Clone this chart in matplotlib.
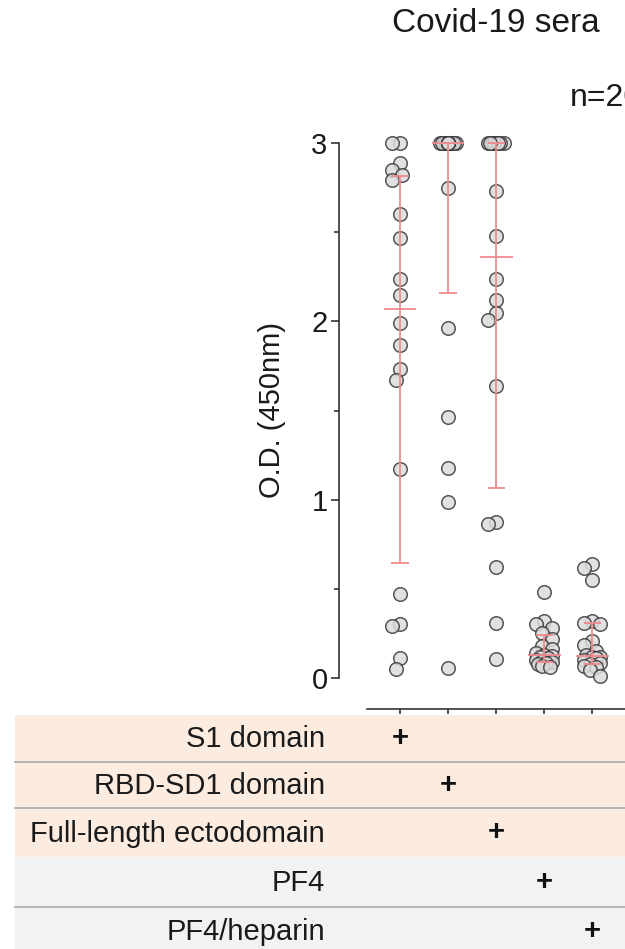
import numpy as np
import matplotlib
matplotlib.use("Agg")
import matplotlib.pyplot as plt
from matplotlib import transforms
from matplotlib.patches import Rectangle

plt.rcParams['font.family'] = ['Liberation Sans', 'DejaVu Sans']

# OD values (n=20 per antigen)
s1_domain = [3.0, 3.0, 2.89, 2.85, 2.82, 2.79, 2.60, 2.47, 2.24, 2.15,
             1.99, 1.87, 1.73, 1.67, 1.17, 0.47, 0.30, 0.29, 0.11, 0.05]
rbd_sd1 = [3.0, 3.0, 3.0, 3.0, 3.0, 3.0, 3.0, 3.0, 3.0, 3.0,
           3.0, 3.0, 3.0, 3.0, 2.75, 1.96, 1.465, 1.176, 0.985, 0.054]
full_length = [3.0, 3.0, 3.0, 3.0, 3.0, 3.0, 3.0, 3.0, 2.73, 2.48,
               2.24, 2.12, 2.045, 2.01, 1.64, 0.873, 0.864, 0.62, 0.31, 0.105]
pf4 = [0.48, 0.32, 0.30, 0.28, 0.25, 0.22, 0.18, 0.16, 0.14, 0.13,
       0.125, 0.12, 0.11, 0.10, 0.095, 0.09, 0.085, 0.08, 0.07, 0.06]
pf4_heparin = [0.64, 0.615, 0.55, 0.32, 0.31, 0.30, 0.21, 0.185, 0.15, 0.13,
               0.12, 0.115, 0.11, 0.10, 0.085, 0.08, 0.07, 0.06, 0.045, 0.01]

groups = [s1_domain, rbd_sd1, full_length, pf4, pf4_heparin]
row_labels = ["S1 domain", "RBD-SD1 domain", "Full-length ectodomain", "PF4", "PF4/heparin"]
row_colors = ["#fcebdf", "#fcebdf", "#fcebdf", "#f2f2f2", "#f2f2f2"]
yticks = [0, 1, 2, 3]

W, H = 625, 949
fig = plt.figure(figsize=(W / 100, H / 100), dpi=100)

# table background (pixel coordinates)
tab = fig.add_axes([0, 0, 1, 1], zorder=0)
tab.set_xlim(0, W)
tab.set_ylim(H, 0)
tab.axis("off")
row_edges = [715, 761.5, 808, 857, 906.5, 956]
for i, col in enumerate(row_colors):
    tab.add_patch(Rectangle((15, row_edges[i]), W, row_edges[i + 1] - row_edges[i],
                            facecolor=col, edgecolor="none"))
for i in [1, 2, 4]:
    tab.plot([15, W], [row_edges[i], row_edges[i]], color="#a9a9a9", lw=1.2)
for i, lab in enumerate(row_labels):
    yc = (row_edges[i] + row_edges[i + 1]) / 2 + 1
    tab.text(325, yc, lab, ha="right", va="center", fontsize=21, color="#1a1a1a")

# main axes
ax = fig.add_axes([339 / W, (H - 690) / H, (720 - 339) / W, (690 - 125) / H], zorder=2)
ax.patch.set_alpha(0)
ax.set_xlim(-1.268, 6.653)
ax.set_ylim(-0.0673, 3.101)
for s in ["top", "right"]:
    ax.spines[s].set_visible(False)
ax.spines["left"].set_bounds(0, 3)
ax.spines["bottom"].set_position(("outward", 13.7))
ax.spines["bottom"].set_bounds(-0.692, 6.653)
for s in ["left", "bottom"]:
    ax.spines[s].set_linewidth(1.1)
    ax.spines[s].set_color("#222222")
ax.set_yticks(yticks)
ax.set_yticks([0.5, 1.5, 2.5], minor=True)
ax.set_yticklabels([str(t) for t in yticks], fontsize=21, color="#1a1a1a")
ax.tick_params(axis="y", which="major", length=6, width=1.1, pad=2.2, color="#222222")
ax.tick_params(axis="y", which="minor", length=3.5, width=1.1, color="#222222")
ax.set_xticks(range(len(groups)))
ax.set_xticklabels([])
ax.tick_params(axis="x", length=3.6, width=1.1, color="#222222")
ax.set_ylabel("O.D. (450nm)", fontsize=21, color="#1a1a1a", va="bottom")
ax.yaxis.set_label_coords(-0.139, 0.4947)

# pixel scale of the data axes, used for the swarm layout
p0 = ax.transData.transform((0, 0))
px_col = ax.transData.transform((1, 0))[0] - p0[0]
px_unit = ax.transData.transform((0, 1))[1] - p0[1]


def swarm(vals, width=8.0, step=2.0, gap=11.0):
    cands = [0.0]
    k = 1
    while k * step <= width:
        cands += [-k * step, k * step]
        k += 1
    placed = []
    offs = []
    for v in vals:
        y = v * px_unit
        best, bestd = 0.0, -1
        for c in cands:
            d = min([np.hypot(c - px, y - py) for px, py in placed], default=np.inf)
            if d >= gap:
                best = c
                break
            if d > bestd:
                best, bestd = c, d
        placed.append((best, y))
        offs.append(best / px_col)
    return np.array(offs)


pink = "#f08a90"
for i, vals in enumerate(groups):
    vals = np.array(vals)
    xs = i + swarm(vals)
    ax.scatter(xs, vals, s=95, facecolor="#dcdcdc", edgecolor="#3a3a3a",
               linewidth=1.1, alpha=0.85, clip_on=False, zorder=3)
    q1, med, q3 = np.percentile(vals, [25, 50, 75], method="weibull")
    ax.vlines(i, q1, q3, color=pink, lw=1.3, zorder=4)
    ax.hlines([q1, q3], i - 0.18, i + 0.18, color=pink, lw=1.3, zorder=4)
    ax.hlines(med, i - 0.34, i + 0.34, color=pink, lw=1.3, zorder=4)

# plus signs in the table, under each column
blend = transforms.blended_transform_factory(ax.transData, tab.transData)
for i in range(len(groups)):
    yc = (row_edges[i] + row_edges[i + 1]) / 2
    tab.text(i, yc, "+", transform=blend, ha="center", va="center",
             fontsize=21, fontweight="bold", color="#111111")

fig.text(496 / W, 1 - 24 / H, "Covid-19 sera", ha="center", va="center",
         fontsize=24, color="#1a1a1a")
fig.text(570 / W, 1 - 98 / H, "n=20", ha="left", va="center",
         fontsize=23, color="#1a1a1a")

fig.savefig("out.png", dpi=100)
